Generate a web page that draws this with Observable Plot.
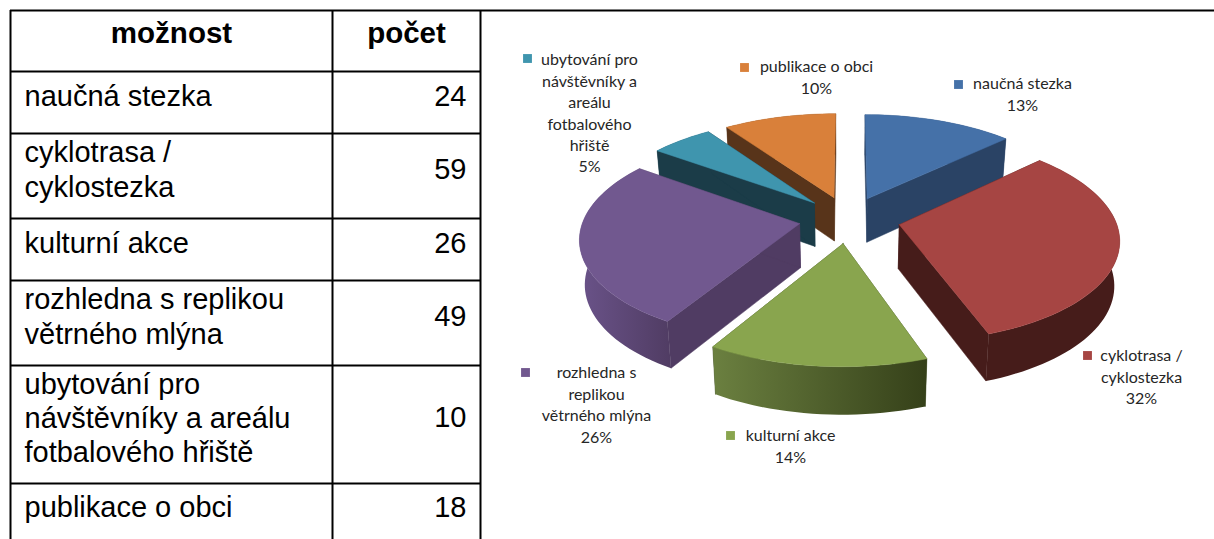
<!DOCTYPE html>
<html><head><meta charset="utf-8">
<script src="https://cdn.jsdelivr.net/npm/d3@7"></script>
<script src="https://cdn.jsdelivr.net/npm/@observablehq/plot@0.6"></script>
<style>html,body{margin:0;background:#fff}svg{display:block}</style>
</head><body><div id="chart"></div>
<script>
// data
const options = ["naučná stezka","cyklotrasa /\ncyklostezka","kulturní akce","rozhledna s replikou\nvětrného mlýna","ubytování pro\nnávštěvníky a areálu\nfotbalového hřiště","publikace o obci"];
const counts = [24,59,26,49,10,18];
const pieLabels = ["naučná stezka","cyklotrasa /\ncyklostezka","kulturní akce","rozhledna s\nreplikou\nvětrného mlýna","ubytování pro\nnávštěvníky a\nareálu\nfotbalového\nhřiště","publikace o obci"];
const percents = ["13%","32%","14%","26%","5%","10%"];
const headers = ["možnost","počet"];
const topColors = ["#4571a8","#a64543","#89a54e","#71588f","#3f95ae","#d9803a"];
const wallColors = ["#2a4365","#461c1a","#3c4a20","#503c63","#1b3c48","#58341a"];
const rimLeft = ["#2a4365","#461c1a","#6b8040","#6a5389","#1b3c48","#58341a"];
const rimRight = ["#2a4365","#461c1a","#354019","#503c63","#1b3c48","#58341a"];

// layout
const W=1214,H=539;
const cx=848,cy=218.5,a=216,b=100,p=0.13,depth=44,shrink=0.98;
const explodeBy=[0.225,0.24,0.24,0.23,0.23,0.23];
const rowY=[10,71,133,218,280,365,483,539];
const colX=[10,332,480];
const labelPos=[[1022,92.5],[1141,375.5],[790,444.5],[596,403],[589,111.5],[816,75.5]];
const keyPos=[[958,84],[1087,355],[730,435],[525,372],[527,58],[744,67]];

const arcs=d3.pie().value(d=>d).sort(null).startAngle(0).endAngle(2*Math.PI)(counts);
function proj(X,Z){const w=1+p*Z;return [cx+a*X/w,cy-b*Z/w,w];}
function lower(pt){const w=pt[2];return [cx+(pt[0]-cx)*shrink,pt[1]+depth/Math.sqrt(w),w];}

const faces=[];let fid=0;
function face(pts,fill){const id=fid++;[...pts,pts[0]].forEach(q=>faces.push({id,x:q[0],y:q[1],fill,line:fill.startsWith("url")?"none":fill}));}
const drawOrder=[5,0,4,3,1,2];
for(const i of drawOrder){
  const s=arcs[i],mid=(s.startAngle+s.endAngle)/2,e=explodeBy[i];
  const X0=e*Math.sin(mid),Z0=e*Math.cos(mid);
  const apex=proj(X0,Z0);
  const n=Math.max(4,Math.round((s.endAngle-s.startAngle)*180/Math.PI/2));
  const rim=d3.range(n+1).map(k=>{
    const t=s.startAngle+(s.endAngle-s.startAngle)*k/n;
    return proj(X0+Math.sin(t),Z0+Math.cos(t));
  });
  face([apex,rim[0],lower(rim[0]),lower(apex)],wallColors[i]);
  face([apex,rim[n],lower(rim[n]),lower(apex)],wallColors[i]);
  face([...rim,...rim.map(lower).reverse()],`url(#rim${i})`);
  face([apex,...rim],topColors[i]);
}
function gradients(){
  const defs=d3.create("svg:defs");
  topColors.forEach((c,i)=>{
    const g=defs.append("linearGradient").attr("id",`rim${i}`).attr("x1",0).attr("x2",1).attr("y1",0).attr("y2",0);
    g.append("stop").attr("offset",0).attr("stop-color",rimLeft[i]);
    g.append("stop").attr("offset",1).attr("stop-color",rimRight[i]);
  });
  return defs.node();
}

const rules=[
  Plot.ruleY(rowY.slice(1,-1),{x1:colX[0],x2:colX[2],stroke:"#000",strokeWidth:2}),
  Plot.ruleY([rowY[0]],{x1:colX[0],x2:W,stroke:"#000",strokeWidth:2}),
  Plot.ruleX(colX,{y1:rowY[0],y2:rowY[7],stroke:"#000",strokeWidth:2})
];
const rowsMid=d3.range(6).map(i=>(rowY[i+1]+rowY[i+2])/2);
const textShift=[-7.5,-7.5,-7.5,-7.5,-7.5,-5];
const numShift=[-6,-6,-6,-6,-6.5,-4];
const font="Liberation Sans";
const tableText=[
  Plot.text([headers[0]],{x:()=>171,y:()=>33,text:d=>d,fontSize:29.5,fontWeight:"bold",fontFamily:font,fill:"#000"}),
  Plot.text([headers[1]],{x:()=>406,y:()=>33,text:d=>d,fontSize:29.5,fontWeight:"bold",fontFamily:font,fill:"#000"}),
  Plot.text(options,{x:()=>24,y:(d,i)=>rowsMid[i]+textShift[i],text:d=>d,textAnchor:"start",fontSize:29,lineHeight:1.18,fontFamily:font,fill:"#000"}),
  Plot.text(counts,{x:()=>466,y:(d,i)=>rowsMid[i]+numShift[i],text:d=>String(d),textAnchor:"end",fontSize:29,fontFamily:font,fill:"#000"})
];
const pieText=[
  Plot.text(pieLabels.map((d,i)=>d+"\n"+percents[i]),{x:(d,i)=>labelPos[i][0],y:(d,i)=>labelPos[i][1],text:d=>d,fontSize:16,lineHeight:1.34,fontFamily:"Lato",fill:"#262626"}),
  Plot.dot(topColors,{x:(d,i)=>keyPos[i][0],y:(d,i)=>keyPos[i][1],symbol:"square",r:5,fill:d=>d,stroke:"none"})
];
const chart=Plot.plot({
  width:W,height:H,margin:0,
  x:{type:"identity",axis:null},y:{type:"identity",axis:null},
  color:{type:"identity"},
  marks:[
    gradients,
    Plot.line(faces,{x:"x",y:"y",z:"id",fill:"fill",stroke:"line",strokeWidth:0.5,curve:"linear"}),
    ...rules,...tableText,...pieText
  ]
});
document.getElementById("chart").append(chart);
</script></body></html>
